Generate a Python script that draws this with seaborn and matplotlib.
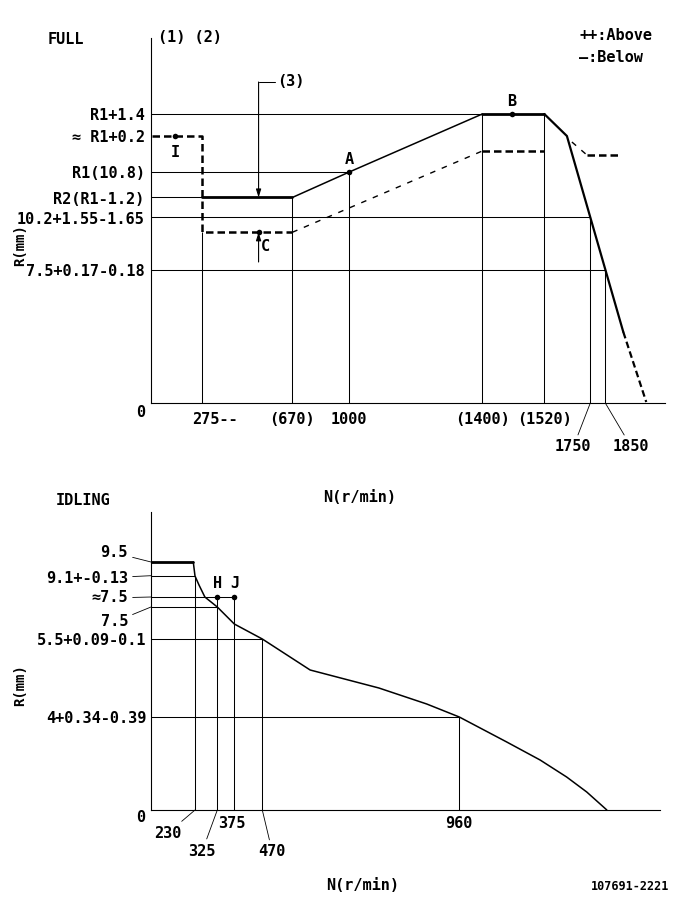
import numpy as np
import matplotlib
matplotlib.use('Agg')
import matplotlib.pyplot as plt
import seaborn as sns

sns.set_style('white')
plt.rcParams['font.family'] = ['DejaVu Sans Mono', 'DejaVu Sans']
plt.rcParams['font.weight'] = 'bold'
plt.rcParams['font.size'] = 11
for key in ['text.color', 'axes.labelcolor', 'xtick.color', 'ytick.color']:
    plt.rcParams[key] = 'black'

# ---------------- FULL (upper chart) ----------------
full_tick_rpm = [275, 670, 1000, 1400, 1520]
full_tick_text = ['275--', '(670)', '1000', '(1400)', '(1520)']
full_lead_rpm = [1750, 1850]
full_lead_text = ['1750', '1850']

# schematic rack levels (drawing units above the N axis)
full_level_h = [289, 267.5, 231, 205.5, 185.5, 133]
full_level_text = ['R1+1.4', '\u2248 R1+0.2', 'R1(10.8)', 'R2(R1-1.2)',
                   '10.2+1.55-1.65', '7.5+0.17-0.18']

# "above" curve pieces
ab_flat1_n, ab_flat1_r = [275, 670], [205.5, 205.5]
ab_rise_n, ab_rise_r = [670, 1000, 1400], [205.5, 231, 289]
ab_flat2_n, ab_flat2_r = [1400, 1520], [289, 289]
ab_drop_n, ab_drop_r = [1520, 1633, 1970], [289, 267, 71]
ab_tail_n, ab_tail_r = [1970, 2123], [71, 1]
# "below" curve pieces
be_flat1_n, be_flat1_r = [8, 275, 275, 670], [267.5, 267.5, 170.7, 170.7]
be_rise_n, be_rise_r = [670, 1400], [170.7, 252]
be_flat2_n, be_flat2_r = [1400, 1520], [252, 252]
be_knee_n, be_knee_r = [1658, 1733], [261, 248]
be_flat3_n, be_flat3_r = [1733, 1950], [248, 248]

# guide lines
full_v_rpm = [275, 670, 1000, 1400, 1520, 1750, 1850]
full_v_top = [170.7, 205.5, 231, 289, 289, 185.5, 133]
full_h_lvl = [289, 231, 205.5, 185.5, 133]
full_h_end = [1400, 1000, 275, 1750, 1850]

pt_I = (129, 267.5)
pt_C = (522, 170.7)
pt_A = (1000, 231)
pt_B = (1457, 289)

# ---------------- IDLING (lower chart) ----------------
idle_tick_rpm = [375, 960]
idle_tick_text = ['375', '960']
idle_lead_rpm = [230, 325, 470]
idle_lead_text = ['230', '325', '470']

idle_level_h = [248, 234.3, 213, 203, 170.7, 92.7]
idle_level_text = ['9.5', '9.1+-0.13', '\u22487.5', '7.5', '5.5+0.09-0.1', '4+0.34-0.39']

idle_flat_n, idle_flat_r = [0, 221], [248, 248]
idle_n = [221, 230, 247, 272, 325, 375, 470, 589, 760, 879, 960, 1078, 1161, 1227, 1277, 1327]
idle_r = [248, 234, 225, 213, 203, 186, 171, 140, 122, 106, 93, 68, 50, 33, 18, 0]

idle_v_rpm = [230, 325, 375, 470, 960]
idle_v_top = [234.3, 213, 213, 170.7, 92.7]
idle_h_lvl = [234.3, 213, 203, 170.7, 92.7]
idle_h_end = [230, 375, 325, 470, 960]

pt_H = (325, 213)
pt_J = (375, 213)

# piecewise scale of the schematic N axis (rpm -> drawing px)
full_scale_rpm = [-200, 0, 275, 670, 1000, 1400, 1520, 1750, 1850, 2400]
full_scale_px = [113.7, 151, 202.3, 292.3, 349.3, 482.3, 544.3, 590.3, 605.3, 687.8]
idle_scale_rpm = [-200, 0, 230, 325, 375, 470, 960, 1600]
idle_scale_px = [112.7, 151, 195, 217.3, 234.3, 262.3, 459.3, 716.6]

W, H = 685, 906
fig = plt.figure(figsize=(W / 100, H / 100), dpi=100)
fig.patch.set_facecolor('white')


def px_axes(left, top, right, bottom):
    return fig.add_axes([left / W, 1 - bottom / H, (right - left) / W, (bottom - top) / H])


def set_scale(ax, rpm, px, right_px, top_h):
    fwd = lambda v: np.interp(v, rpm, px)
    inv = lambda v: np.interp(v, px, rpm)
    ax.set_xscale('function', functions=(fwd, inv))
    ax.set_xlim(0, float(inv(right_px)))
    ax.set_ylim(0, top_h)


def curve(ax, x, y, lw, ls='-'):
    sns.lineplot(x=x, y=y, ax=ax, color='black', linewidth=lw, linestyle=ls,
                 sort=False, estimator=None)


def dots(ax, pts, s=16):
    sns.scatterplot(x=[p[0] for p in pts], y=[p[1] for p in pts], ax=ax,
                    color='black', s=s, edgecolor='black', linewidth=0)


def style_axes(ax):
    sns.despine(ax=ax)
    for sp in ['left', 'bottom']:
        ax.spines[sp].set_linewidth(0.8)
        ax.spines[sp].set_color('black')
    ax.set_xlabel('')
    ax.set_ylabel('')


def label(ax, x, y, text, dx, dy, lead=False, **kw):
    props = dict(arrowstyle='-', lw=0.6, color='black', shrinkA=1, shrinkB=0) if lead else None
    ax.annotate(text, xy=(x, y), xytext=(dx, dy), textcoords='offset pixels',
                ha=kw.pop('ha', 'center'), va=kw.pop('va', 'center'),
                arrowprops=props, annotation_clip=False, **kw)


thick_dash = (0, (3, 1.6))
thin_dash = (0, (4, 5))

# ===== upper chart =====
ax1 = px_axes(151, 38, 665, 403)
set_scale(ax1, full_scale_rpm, full_scale_px, 665, 365)

ax1.vlines(full_v_rpm, 0, full_v_top, color='black', lw=0.75)
ax1.hlines(full_h_lvl, 0, full_h_end, color='black', lw=0.75)

curve(ax1, ab_flat1_n, ab_flat1_r, 2.0)
curve(ax1, ab_rise_n, ab_rise_r, 1.1)
curve(ax1, ab_flat2_n, ab_flat2_r, 2.0)
curve(ax1, ab_drop_n, ab_drop_r, 1.6)
curve(ax1, ab_tail_n, ab_tail_r, 1.6, thick_dash)
curve(ax1, be_flat1_n, be_flat1_r, 1.8, thick_dash)
curve(ax1, be_rise_n, be_rise_r, 1.0, thin_dash)
curve(ax1, be_flat2_n, be_flat2_r, 1.8, thick_dash)
curve(ax1, be_knee_n, be_knee_r, 1.0, thin_dash)
curve(ax1, be_flat3_n, be_flat3_r, 1.8, thick_dash)
dots(ax1, [pt_I, pt_C, pt_A, pt_B])

# (3) arrows
arr = dict(arrowstyle='-|>,head_length=0.8,head_width=0.25', lw=0.8, color='black',
           shrinkA=0, shrinkB=0, mutation_scale=6)
ax1.annotate('', xy=(pt_C[0], 205.5), xytext=(pt_C[0], 321), arrowprops=arr)
ax1.annotate('', xy=(pt_C[0], 170.7), xytext=(pt_C[0], 141), arrowprops=arr)
ax1.plot([pt_C[0], 594], [321, 321], color='black', lw=0.75)
label(ax1, 594, 321, '(3)', 2, 0, ha='left')

label(ax1, pt_A[0], pt_A[1], 'A', 0, 12)
label(ax1, pt_B[0], pt_B[1], 'B', 0, 12)
label(ax1, pt_C[0], pt_C[1], 'C', 7, -14)
label(ax1, pt_I[0], pt_I[1], 'I', 0, -17)

ax1.set_xticks([])
ax1.set_yticks(full_level_h, full_level_text)
ax1.tick_params(axis='y', length=0, pad=4.5)
label(ax1, 0, 0, '0', -10, -10)
for n, t in zip(full_tick_rpm, full_tick_text):
    label(ax1, n, 0, t, 13 if t.endswith('--') else 0, -17)
for n, t, dx in zip(full_lead_rpm, full_lead_text, [-17, 26]):
    label(ax1, n, 0, t, dx, -44, lead=True)
style_axes(ax1)

# ===== lower chart =====
ax2 = px_axes(151, 512, 660, 810)
set_scale(ax2, idle_scale_rpm, idle_scale_px, 660, 298)

ax2.vlines(idle_v_rpm, 0, idle_v_top, color='black', lw=0.75)
ax2.hlines(idle_h_lvl, 0, idle_h_end, color='black', lw=0.75)

curve(ax2, idle_flat_n, idle_flat_r, 2.0)
curve(ax2, idle_n, idle_r, 1.1)
dots(ax2, [pt_H, pt_J])
label(ax2, pt_H[0], pt_H[1], 'H', 0, 14)
label(ax2, pt_J[0], pt_J[1], 'J', 1, 14)

ax2.set_xticks([])
ax2.set_yticks(idle_level_h[4:], idle_level_text[4:])
ax2.tick_params(axis='y', length=0, pad=3)
for h, t, dy in zip(idle_level_h[:4], idle_level_text[:4], [9.3, -3, -1, -15]):
    label(ax2, 0, h, t, -23, dy, lead=True, ha='right')
label(ax2, 0, 0, '0', -10, -8)
for n, t in zip(idle_tick_rpm, idle_tick_text):
    label(ax2, n, 0, t, -2 if n == 375 else 0, -14)
for n, t, (dx, dy) in zip(idle_lead_rpm, idle_lead_text, [(-27, -23), (-15, -41), (10, -42)]):
    label(ax2, n, 0, t, dx, dy, lead=True)
style_axes(ax2)

# ===== free texts =====
def ftext(x, y, s, **kw):
    fig.text(x / W, 1 - y / H, s, ha=kw.pop('ha', 'center'), va=kw.pop('va', 'center'), **kw)

ftext(66, 39, 'FULL')
ftext(190, 38, '(1) (2)')
ftext(579, 35, '++:Above', ha='left')
ftext(579, 58, '\u2014:Below', ha='left')
ftext(20, 245, 'R(mm)', rotation=90, fontsize=10)
ftext(360, 497, 'N(r/min)')
ftext(83, 500, 'IDLING')
ftext(20, 685, 'R(mm)', rotation=90, fontsize=10)
ftext(363, 886, 'N(r/min)')
ftext(630, 886, '107691-2221', fontsize=8.5)

fig.savefig('out.png', dpi=100, facecolor='white')
